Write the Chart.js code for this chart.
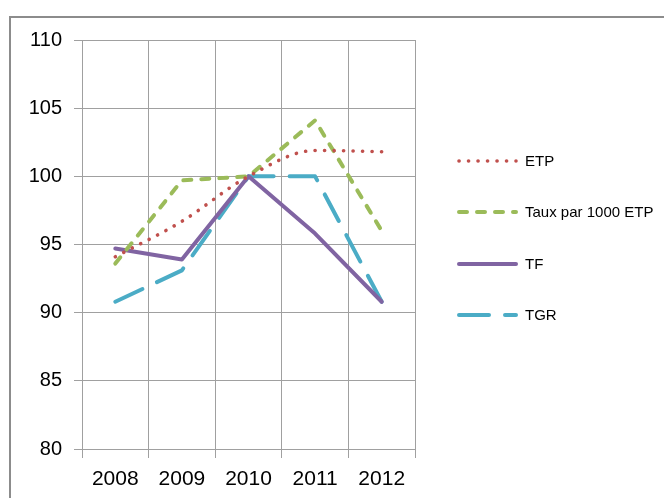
<!DOCTYPE html>
<html>
<head>
<meta charset="utf-8">
<script src="https://cdn.jsdelivr.net/npm/chart.js@4.4.1/dist/chart.umd.min.js"></script>
<style>
  html, body { margin: 0; padding: 0; background: #fff; }
  #wrap { position: relative; width: 664px; height: 498px; overflow: hidden; }
  #frame { position: absolute; left: 9px; top: 16px; width: 700px; height: 520px;
           border-left: 2px solid #8c8c8c; border-top: 2px solid #8c8c8c; }
  canvas { position: absolute; left: 0; top: 0; }
</style>
</head>
<body>
<div id="wrap">
  <div id="frame"></div>
  <canvas id="chart" width="664" height="498"></canvas>
</div>
<script>
const years = ['2008', '2009', '2010', '2011', '2012'];
const etp = [94.1, 96.7, 100, 101.9, 101.8];
const tauxPar1000 = [93.6, 99.7, 100, 104.1, 96.0];
const tf = [94.7, 93.9, 100, 95.8, 90.8];
const tgr = [90.8, 93.1, 100, 100, 90.8];
const yTicks = [80, 85, 90, 95, 100, 105, 110];

const gridColor = '#a0a0a0';
const fontFamily = '"Liberation Sans", Arial, sans-serif';

const series = [
  { label: 'ETP', data: etp, color: '#c0504d', dash: [0.1, 9.4], width: 3.6, smooth: true },
  { label: 'Taux par 1000 ETP', data: tauxPar1000, color: '#9bbb59', dash: [8, 10], width: 4, smooth: false },
  { label: 'TF', data: tf, color: '#8064a2', dash: [], width: 4, smooth: false },
  { label: 'TGR', data: tgr, color: '#4bacc6', dash: [30, 16], width: 4, smooth: false }
];

// legend on the right, drawn with the same line styles as the datasets
const sideLegend = {
  id: 'sideLegend',
  afterDraw(chart) {
    const ctx = chart.ctx;
    const rows = [161, 212, 264, 315];
    ctx.save();
    chart.data.datasets.forEach((ds, i) => {
      const y = rows[i];
      ctx.beginPath();
      ctx.setLineDash(ds.borderDash);
      ctx.lineCap = 'round';
      ctx.lineWidth = ds.borderWidth;
      ctx.strokeStyle = ds.borderColor;
      ctx.moveTo(459, y);
      ctx.lineTo(516, y);
      ctx.stroke();
      ctx.setLineDash([]);
      ctx.fillStyle = '#000';
      ctx.font = '15px ' + fontFamily;
      ctx.textBaseline = 'middle';
      ctx.fillText(ds.label, 525, y + 1);
    });
    ctx.restore();
  }
};

new Chart(document.getElementById('chart'), {
  type: 'line',
  data: {
    labels: years,
    datasets: series.map(s => ({
      label: s.label,
      data: s.data,
      borderColor: s.color,
      backgroundColor: s.color,
      borderDash: s.dash,
      borderWidth: s.width,
      borderCapStyle: 'round',
      borderJoinStyle: 'round',
      cubicInterpolationMode: s.smooth ? 'monotone' : 'default',
      tension: 0,
      pointRadius: 0,
      fill: false
    }))
  },
  options: {
    responsive: false,
    animation: false,
    layout: { padding: { left: 10, right: 249, top: 40, bottom: 0 } },
    plugins: {
      legend: { display: false },
      tooltip: { enabled: false }
    },
    scales: {
      x: {
        offset: true,
        grid: { offset: true, color: gridColor, tickLength: 9 },
        border: { color: gridColor },
        ticks: { color: '#000', padding: 9, font: { family: fontFamily, size: 21 } },
        afterFit: s => { s.height = 49; }
      },
      y: {
        min: yTicks[0],
        max: yTicks[yTicks.length - 1],
        afterBuildTicks: s => { s.ticks = yTicks.map(v => ({ value: v })); },
        grid: { color: gridColor, tickLength: 8 },
        border: { color: gridColor },
        ticks: { color: '#000', padding: 12, font: { family: fontFamily, size: 20 } },
        afterFit: s => { s.width = 72; }
      }
    }
  },
  plugins: [sideLegend]
});
</script>
</body>
</html>
